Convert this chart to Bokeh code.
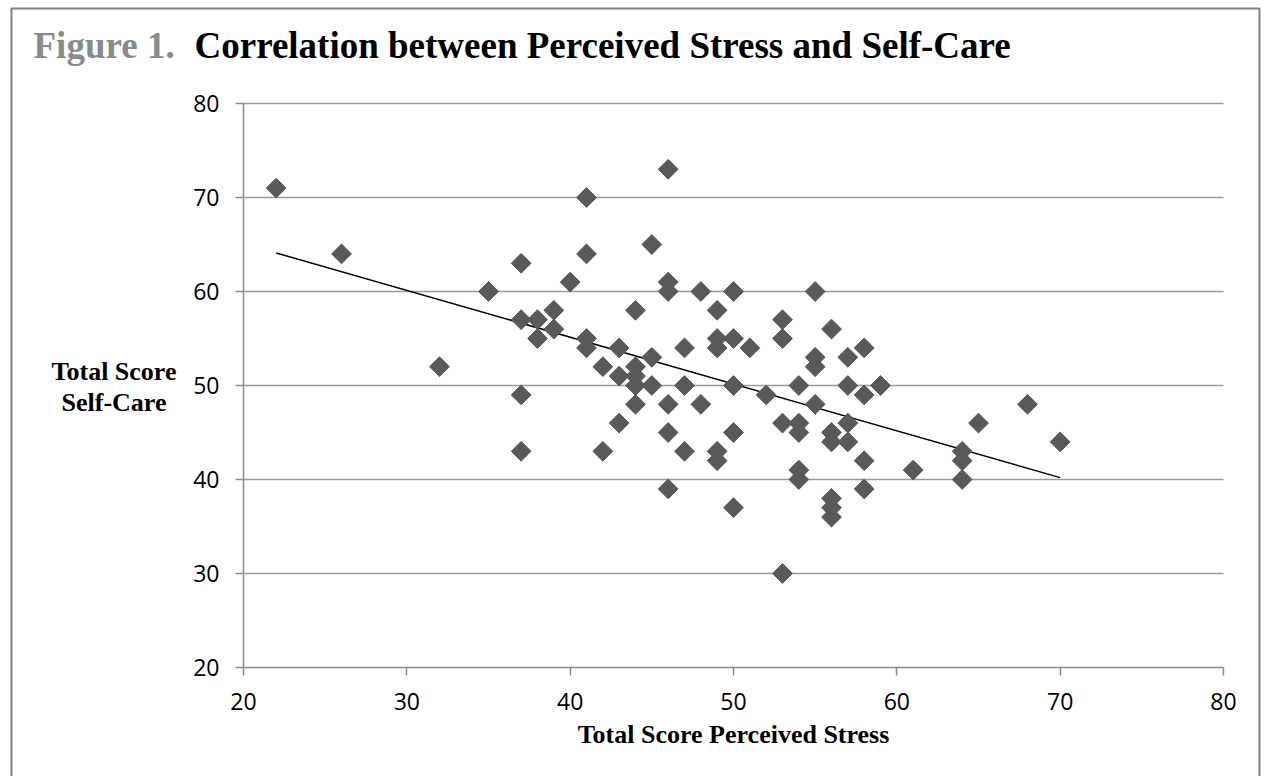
import math
from bokeh.plotting import figure
from bokeh.models import Range1d, FixedTicker, Label, BoxAnnotation
from bokeh.embed import file_html
from bokeh.resources import INLINE

# Data
stress = [22, 26, 32, 35, 37, 37, 37, 37, 38, 38, 39, 39, 40, 41, 41, 41, 41, 42, 42,
          43, 43, 43, 44, 44, 44, 44, 44, 45, 45, 45, 46, 46, 46, 46, 46, 46, 47, 47, 47,
          48, 48, 49, 49, 49, 49, 49, 50, 50, 50, 50, 50, 51, 52, 53, 53, 53, 53, 54, 54,
          54, 54, 54, 55, 55, 55, 55, 56, 56, 56, 56, 56, 56, 57, 57, 57, 57, 58, 58, 58,
          58, 59, 61, 64, 64, 64, 65, 68, 70]
selfcare = [71, 64, 52, 60, 63, 57, 49, 43, 57, 55, 58, 56, 61, 70, 64, 55, 54, 52, 43,
            54, 51, 46, 58, 52, 51, 50, 48, 65, 53, 50, 73, 61, 60, 48, 45, 39, 54, 50, 43,
            60, 48, 58, 55, 54, 43, 42, 60, 55, 50, 45, 37, 54, 49, 57, 55, 46, 30, 50, 46,
            45, 41, 40, 60, 53, 52, 48, 56, 45, 44, 38, 37, 36, 53, 50, 46, 44, 54, 49, 42,
            39, 50, 41, 43, 42, 40, 46, 48, 44]
trend_x = [22, 70]
trend_y = [64.1, 40.2]
ticks = [20, 30, 40, 50, 60, 70, 80]
x_lim = (20, 80)
y_lim = (20, 80)

title_prefix = "Figure 1."
title_main = "Correlation between Perceived Stress and Self-Care"
x_title = "Total Score Perceived Stress"
y_title_lines = ["Total Score", "Self-Care"]

# canvas and plot-area geometry (pixels)
W, H = 1261, 776
PL, PR, PT, PB = 243, 1223, 103, 667
kx = (x_lim[1] - x_lim[0]) / (PR - PL)
ky = (y_lim[1] - y_lim[0]) / (PB - PT)
def dx(px):
    return x_lim[0] + (px - PL) * kx
def dy(py):
    return y_lim[1] - (py - PT) * ky

p = figure(width=W, height=H, output_backend="svg", toolbar_location=None,
           x_range=Range1d(dx(0), dx(W)), y_range=Range1d(dy(H), dy(0)),
           min_border_left=0, min_border_right=0, min_border_top=0, min_border_bottom=0)
p.title.visible = False
p.outline_line_color = None
p.background_fill_color = "white"
p.border_fill_color = "white"
p.xgrid.visible = False
p.ygrid.visible = False

# horizontal gridlines across the plot area
p.segment(x0=x_lim[0], x1=x_lim[1], y0=ticks[1:], y1=ticks[1:],
          line_color="#9a9a9a", line_width=1.5)

for ax in (p.xaxis[0], p.yaxis[0]):
    ax.fixed_location = 20
    ax.ticker = FixedTicker(ticks=ticks)
    ax.axis_line_color = "#8c8c8c"
    ax.axis_line_width = 1.5
    ax.major_tick_line_color = "#8c8c8c"
    ax.major_tick_line_width = 1.5
    ax.major_tick_out = 8
    ax.major_tick_in = 0
    ax.minor_tick_line_color = None
    ax.major_label_text_font = "Open Sans"
    ax.major_label_text_font_size = "23px"
    ax.major_label_text_color = "black"
p.xaxis.bounds = x_lim
p.yaxis.bounds = y_lim
p.xaxis.major_label_standoff = 17
p.yaxis.major_label_standoff = 16

p.line(trend_x, trend_y, line_color="black", line_width=1.5)
p.scatter(stress, selfcare, marker="square", angle=math.pi / 4, size=14,
          fill_color="#595959", line_color="#595959")

serif = "Liberation Serif"
def add_text(px, py, txt, size, color, align):
    fs = float(size.replace("px", ""))
    p.add_layout(Label(x=dx(px), y=dy(py - 0.32 * fs), text=txt, text_font=serif,
                       text_font_size=size, text_font_style="bold", text_color=color,
                       text_baseline="alphabetic", text_align=align))

add_text(33, 57, title_prefix, "37px", "#8a8a8a", "left")
add_text(194, 57, title_main, "37px", "black", "left")
add_text(733, 742, x_title, "26px", "black", "center")
for i, t in enumerate(y_title_lines):
    add_text(113.5, 379 + 31 * i, t, "26px", "black", "center")

p.add_layout(BoxAnnotation(left=dx(11), right=dx(1259), top=dy(8), bottom=dy(1000),
                           fill_alpha=0, line_color="#808080", line_alpha=1.0,
                           line_width=2))

open("out.html", "w").write(file_html(p, INLINE))
